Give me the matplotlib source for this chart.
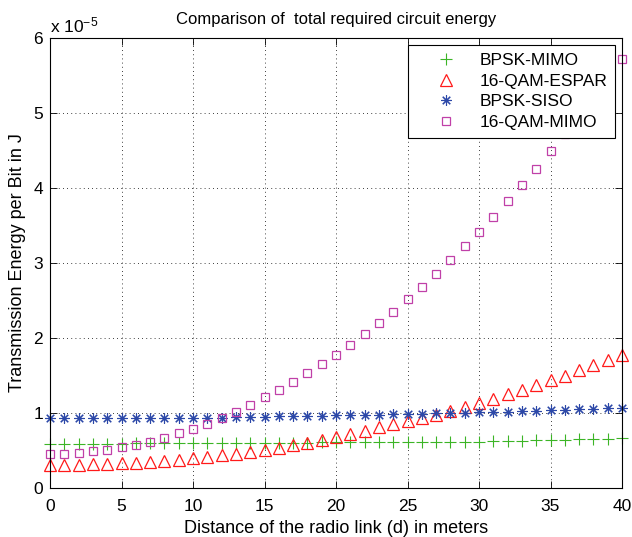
import numpy as np
import matplotlib
matplotlib.use("Agg")
import matplotlib.pyplot as plt
from matplotlib.ticker import FuncFormatter

plt.rcParams['font.family'] = ['Liberation Sans', 'DejaVu Sans']
plt.rcParams['mathtext.fontset'] = 'custom'
plt.rcParams['mathtext.rm'] = 'Liberation Sans'
plt.rcParams['mathtext.it'] = 'Liberation Sans'

# distance in meters
distance = list(range(0, 41))
# energies in units of 1e-5 J
bpsk_mimo = [0.59, 0.59, 0.59, 0.59, 0.59, 0.59, 0.595, 0.595, 0.595, 0.595,
             0.60, 0.60, 0.60, 0.60, 0.60, 0.60, 0.605, 0.605, 0.605, 0.61,
             0.61, 0.61, 0.61, 0.61, 0.615, 0.615, 0.615, 0.62, 0.62, 0.62,
             0.62, 0.625, 0.625, 0.63, 0.635, 0.64, 0.645, 0.65, 0.655, 0.66, 0.665]
qam16_espar = [0.31, 0.31, 0.31, 0.32, 0.32, 0.33, 0.34, 0.35, 0.36, 0.38,
               0.40, 0.42, 0.44, 0.46, 0.48, 0.51, 0.54, 0.57, 0.60, 0.64,
               0.68, 0.72, 0.76, 0.81, 0.85, 0.89, 0.94, 0.98, 1.03, 1.08,
               1.14, 1.19, 1.25, 1.31, 1.38, 1.44, 1.50, 1.57, 1.64, 1.71, 1.78]
bpsk_siso = [0.93, 0.93, 0.93, 0.93, 0.93, 0.93, 0.93, 0.93, 0.93, 0.935,
             0.94, 0.94, 0.94, 0.945, 0.95, 0.95, 0.955, 0.96, 0.96, 0.965,
             0.97, 0.97, 0.975, 0.98, 0.985, 0.99, 0.99, 1.0, 1.0, 1.005,
             1.01, 1.015, 1.02, 1.025, 1.03, 1.04, 1.045, 1.05, 1.055, 1.065, 1.07]
qam16_mimo = [0.455, 0.46, 0.47, 0.49, 0.51, 0.545, 0.58, 0.62, 0.67, 0.73,
              0.79, 0.86, 0.94, 1.02, 1.11, 1.21, 1.31, 1.42, 1.54, 1.66,
              1.78, 1.91, 2.05, 2.20, 2.35, 2.52, 2.68, 2.85, 3.04, 3.23,
              3.42, 3.62, 3.83, 4.04, 4.26, 4.49, 4.72, 4.96, 5.21, 5.47, 5.72]
scale = 1e-5
labels = ['BPSK-MIMO', '16-QAM-ESPAR', 'BPSK-SISO', '16-QAM-MIMO']

fig = plt.figure(figsize=(6.32, 5.37), dpi=100)
ax = fig.add_axes([50/632, 49/537, 572/632, 450/537])

x = np.array(distance)
ax.plot(x, np.array(bpsk_mimo)*scale, linestyle='none', marker='+', ms=8,
        mew=0.8, color='#3cb526', label=labels[0], clip_on=False)
ax.plot(x, np.array(qam16_espar)*scale, linestyle='none', marker='^', ms=9,
        mew=0.9, mfc='none', color='#ff1a1a', label=labels[1], clip_on=False)
ax.plot(x, np.array(bpsk_siso)*scale, linestyle='none', marker=(8, 2, 0), ms=7.5,
        mew=0.8, color='#2c48a8', label=labels[2], clip_on=False)
ax.plot(x, np.array(qam16_mimo)*scale, linestyle='none', marker='s', ms=6.3,
        mew=0.9, mfc='none', color='#c040a8', label=labels[3], clip_on=False)

ax.set_xlim(0, 40)
ax.set_ylim(0, 6e-5)
ax.set_xticks(range(0, 41, 5))
ax.set_yticks(np.arange(0, 7)*scale)
ax.yaxis.set_major_formatter(FuncFormatter(lambda v, p: '%d' % round(v/scale)))
ax.tick_params(direction='in', top=True, right=True, labelsize=12.5, length=5, width=0.6)
ax.tick_params(axis='x', pad=8)
ax.tick_params(axis='y', pad=5)
ax.grid(True, linestyle=(0, (1, 4)), color='black', linewidth=0.6)
for s in ax.spines.values():
    s.set_linewidth(0.8)

ax.set_title('Comparison of  total required circuit energy', fontsize=12, pad=10)
ax.set_xlabel('Distance of the radio link (d) in meters', fontsize=13, labelpad=4)
ax.set_ylabel('Transmission Energy per Bit in J', fontsize=13, labelpad=5)
ax.text(0.0, 1.006, r'x 10$^{-5}$', transform=ax.transAxes, fontsize=12.5,
        ha='left', va='bottom')

leg = ax.legend(loc='upper right', bbox_to_anchor=(0.988, 0.985), fancybox=False,
                edgecolor='black', framealpha=1, fontsize=12.5, handletextpad=0.15,
                labelspacing=0.33, borderpad=0.45, handlelength=3.5, borderaxespad=0)
leg.get_frame().set_linewidth(0.8)
leg.set_zorder(10)

fig.savefig('out.png', dpi=100)
